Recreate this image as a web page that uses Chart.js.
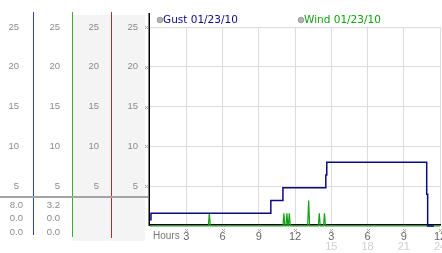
<!doctype html>
<html lang="en">
<head>
    <meta charset="UTF-8" />
    <title>Gust and Wind</title>
    <style>
        body {
            margin: 0;
            background: #fff;
        }
        .chart-container {
            position: relative;
            width: 442px;
            height: 253px;
        }
    </style>
</head>
<body>
    <div class="chart-container">
        <canvas id="windChart"></canvas>
    </div>

    <script src="https://cdn.jsdelivr.net/npm/chart.js"></script>
    <script>
        // Series names
        const seriesNames = ['Gust 01/23/10', 'Wind 01/23/10'];

        // Gust readings (hour of day, value) - stepped line
        const gustHours  = [0,   0.08, 10.0, 11.0, 14.55, 14.63, 22.9, 22.98, 23.5];
        const gustValues = [0.8, 1.6,  3.2,  4.8,  6.4,   8.0,   4.0,  0.0,   0.0];

        // Wind readings (hour of day, value)
        const windHours  = [0, 4.83, 4.91, 4.99, 11.0, 11.08, 11.16, 11.25, 11.33, 11.41,
                            11.45, 11.53, 11.61, 13.05, 13.13, 13.21, 13.93, 14.01, 14.09,
                            14.36, 14.44, 14.52, 24];
        const windValues = [0, 0, 1.6, 0, 0, 1.6, 0, 0, 1.6, 0,
                            0, 1.6, 0, 0, 3.2, 0, 0, 1.6, 0,
                            0, 1.6, 0, 0];

        // Axis ticks and labels
        const yTicks = [5, 10, 15, 20, 25];
        const hourTicks = [3, 6, 9, 12, 15, 18, 21, 24];
        const hourLabels = ['3', '6', '9', '12', '3', '6', '9', '12'];
        const dayLabels = ['', '', '', '', '15', '18', '21', '24'];

        const gustColor = '#0a0a84';
        const windColor = '#12a012';

        function toPoints(xs, ys) {
            return xs.map((x, i) => ({ x: x, y: ys[i] }));
        }

        // tiny dotted grab mark
        function mark(ctx, cx, cy) {
            ctx.fillStyle = '#a8a8a8';
            [[-1, -1], [1, -1], [0, 0], [-1, 1], [1, 1]].forEach(([dx, dy]) => {
                ctx.fillRect(Math.round(cx) + dx, Math.round(cy) + dy, 1, 1);
            });
        }

        function stats(values) {
            return [Math.max(...values), Math.min(...values), values[values.length - 1]]
                .map(v => v.toFixed(1));
        }

        const panelPlugin = {
            id: 'panel',
            beforeDraw(chart) {
                const ctx = chart.ctx;
                ctx.save();
                ctx.fillStyle = '#f4f4f4';
                ctx.fillRect(73, 15, 38, 226);
                ctx.fillRect(112, 15, 33, 226);
                ctx.restore();
            },
            beforeDatasetsDraw(chart) {
                const ctx = chart.ctx;
                ctx.save();
                ctx.fillStyle = '#000';
                ctx.fillRect(148.5, 13, 1.5, 213);
                ctx.restore();
            },
            afterDraw(chart) {
                const ctx = chart.ctx;
                const ys = chart.scales.y;
                const xs = chart.scales.x;
                ctx.save();

                // column rules
                [[33, '#2448b0', 235], [72, '#36ae36', 237], [111, '#c02828', 238]].forEach(([x, c, b]) => {
                    ctx.fillStyle = c;
                    ctx.fillRect(x, 12, 1, b - 12);
                });

                // separator
                ctx.fillStyle = '#a3a3a3';
                ctx.fillRect(0, 196, 148, 2);

                // tick labels in every column
                ctx.font = '9.5px "Liberation Sans"';
                ctx.textAlign = 'right';
                ctx.textBaseline = 'middle';
                yTicks.forEach(v => {
                    const y = ys.getPixelForValue(v);
                    ctx.fillStyle = '#8a8a8a';
                    [19, 60, 99, 138].forEach(r => ctx.fillText(String(v), r, y));
                    mark(ctx, 146, y);
                });

                // max / min / last
                const rows = [205, 218.5, 232];
                ctx.fillStyle = '#8a8a8a';
                stats(gustValues).forEach((t, i) => ctx.fillText(t, 23, rows[i]));
                stats(windValues).forEach((t, i) => ctx.fillText(t, 60, rows[i]));

                // hour marks
                hourTicks.forEach(h => mark(ctx, xs.getPixelForValue(h), 230));

                ctx.textAlign = 'left';
                ctx.font = '10px "Liberation Sans"';
                ctx.fillStyle = '#777';
                ctx.fillText('Hours', 153, 236);

                // legend
                ctx.font = '10.5px "DejaVu Sans"';
                chart.data.datasets.forEach((ds, i) => {
                    const cx = [160, 301][i];
                    ctx.beginPath();
                    ctx.arc(cx, 20, 2.8, 0, Math.PI * 2);
                    ctx.fillStyle = '#b4b4b4';
                    ctx.fill();
                    ctx.strokeStyle = '#8c8c8c';
                    ctx.lineWidth = 0.8;
                    ctx.stroke();
                    ctx.fillStyle = ds.borderColor;
                    ctx.fillText(ds.label, cx + 3, 20.5);
                });
                ctx.restore();
            }
        };

        const ctx = document.getElementById('windChart').getContext('2d');

        new Chart(ctx, {
            type: 'line',
            data: {
                datasets: [{
                    label: seriesNames[0],
                    data: toPoints(gustHours, gustValues),
                    borderColor: gustColor,
                    borderWidth: 1.5,
                    stepped: true,
                    pointRadius: 0,
                    clip: false
                }, {
                    label: seriesNames[1],
                    data: toPoints(windHours, windValues),
                    borderColor: windColor,
                    borderWidth: 1.2,
                    tension: 0,
                    pointRadius: 0,
                    clip: false
                }]
            },
            options: {
                responsive: true,
                maintainAspectRatio: false,
                animation: false,
                layout: { padding: { top: 27, right: 2, left: 0, bottom: 0 } },
                plugins: {
                    legend: { display: false },
                    tooltip: { enabled: false }
                },
                scales: {
                    x: {
                        type: 'linear',
                        position: 'bottom',
                        weight: 0,
                        min: 0,
                        max: 24,
                        afterBuildTicks: s => { s.ticks = hourTicks.map(v => ({ value: v })); },
                        afterFit: s => { s.height = 15; s.paddingLeft = 0; s.paddingRight = 0; },
                        grid: { color: '#dcdcdc', drawTicks: false },
                        border: { color: '#000', width: 1.5 },
                        ticks: {
                            padding: 5,
                            color: '#666',
                            font: { family: 'Liberation Sans', size: 11 },
                            maxRotation: 0,
                            autoSkip: false,
                            callback: (v, i) => hourLabels[i]
                        }
                    },
                    x2: {
                        type: 'linear',
                        position: 'bottom',
                        weight: 1,
                        min: 0,
                        max: 24,
                        afterBuildTicks: s => { s.ticks = hourTicks.map(v => ({ value: v })); },
                        afterFit: s => { s.height = 13; s.paddingLeft = 0; s.paddingRight = 0; },
                        grid: { display: false, drawTicks: false },
                        border: { display: false },
                        ticks: {
                            padding: 0,
                            color: '#cfcfcf',
                            font: { family: 'Liberation Sans', size: 11 },
                            maxRotation: 0,
                            autoSkip: false,
                            callback: (v, i) => dayLabels[i]
                        }
                    },
                    y: {
                        position: 'left',
                        min: 0.125,
                        max: 25,
                        afterBuildTicks: s => { s.ticks = yTicks.map(v => ({ value: v })); },
                        afterFit: s => { s.width = 150; },
                        grid: { color: '#dcdcdc', drawTicks: false },
                        border: { display: false },
                        ticks: { display: false }
                    }
                }
            },
            plugins: [panelPlugin]
        });
    </script>
</body>
</html>
